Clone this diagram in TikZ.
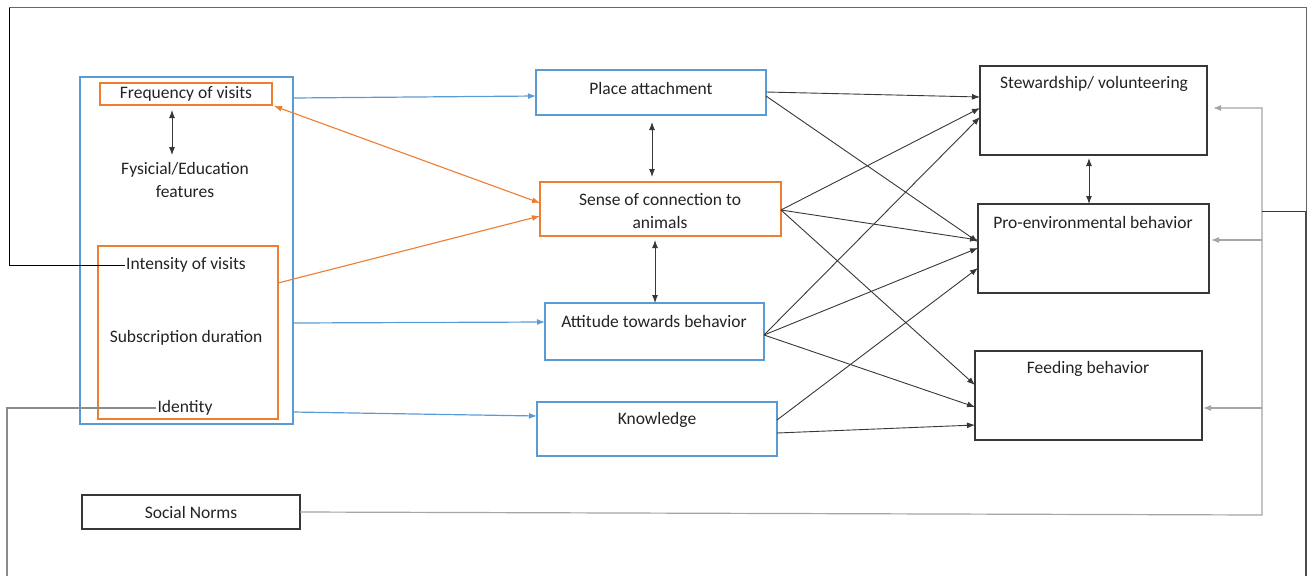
\documentclass[tikz,border=0pt]{standalone}
\usepackage{fontspec}
\setmainfont{Carlito}
\usetikzlibrary{arrows.meta,calc}
\definecolor{oblue}{RGB}{91,155,213}
\definecolor{oorange}{RGB}{237,125,49}
\definecolor{dline}{RGB}{55,55,55}
\definecolor{gline}{RGB}{165,165,165}
\definecolor{tcol}{RGB}{35,35,35}
\begin{document}
\begin{tikzpicture}[x=1pt,y=-1pt,
  bx/.style={draw,inner sep=0pt,outer sep=0pt,line width=1.4pt},
  txt/.style={inner sep=1pt,align=center,font=\fontsize{17.5}{23}\selectfont,text=tcol},
  tip/.style={-{Latex[length=8pt,width=6pt]}},
  dtip/.style={{Latex[length=8pt,width=6pt]}-{Latex[length=8pt,width=6pt]}},
  bluearrow/.style={draw=oblue,line width=1.2pt,tip},
  orangearrow/.style={draw=oorange,line width=1.1pt},
  darkarrow/.style={draw=dline,line width=0.9pt,tip},
  busline/.style={draw=gline,line width=1.2pt}]
\useasboundingbox (0,0) rectangle (1310,576);

% left group
\node[bx,draw=oblue,minimum width=213,minimum height=347] (lb) at (186.5,250.5) {};
\node[bx,draw=oorange,minimum width=180,minimum height=173] (ob) at (188,332.5) {};
\node[bx,draw=oorange,minimum width=172,minimum height=22,txt] (fq) at (186,94) {Frequency of visits};
\node[txt] (fyt) at (185,180) {Fysicial/Education\\features};
\node[txt] (int) at (186,265) {Intensity of visits};
\node[txt] (sdt) at (186,338) {Subscription duration};
\node[txt] (idt) at (185,408) {Identity};
\node[bx,draw=dline,minimum width=218,minimum height=34,txt] (sn) at (191,512) {Social Norms};

% middle
\node[bx,draw=oblue,minimum width=230,minimum height=45] (pa) at (651,92.5) {};
\node[txt] (pat) at (651,88) {Place attachment};
\node[bx,draw=oorange,minimum width=241,minimum height=54] (sc) at (660.5,209) {};
\node[txt] (sct) at (660,211) {Sense of connection to\\animals};
\node[bx,draw=oblue,minimum width=219,minimum height=57] (at) at (654.5,331.5) {};
\node[txt] (att) at (654,321) {Attitude towards behavior};
\node[bx,draw=oblue,minimum width=240,minimum height=54] (kn) at (657,429) {};
\node[txt] (knt) at (657,420) {Knowledge};

% right
\node[bx,draw=dline,minimum width=227,minimum height=89] (sv) at (1093.5,110.5) {};
\node[txt] (svt) at (1094,84) {Stewardship/ volunteering};
\node[bx,draw=dline,minimum width=231,minimum height=89] (pe) at (1093.5,248.5) {};
\node[txt] (pet) at (1093,222) {Pro-environmental behavior};
\node[bx,draw=dline,minimum width=227,minimum height=89] (fb) at (1088.5,395.5) {};
\node[txt] (fbt) at (1088,369) {Feeding behavior};

% coordinates for the frame and bus
\coordinate (c1) at (9,7);
\coordinate (c2) at (1306,7);
\coordinate (c3) at (1306,211);
\coordinate (bj) at (1262,211);
\coordinate (bb) at (1262,515);
\coordinate (j2) at (1262,240);
\coordinate (j3) at (1262,408);
\coordinate (ib) at (7,576);
\coordinate (rb) at (1306,576);

% double arrows
\draw[dline,line width=1pt,dtip] ($(fq.south)+(-14,5)$) -- ($(fyt.north)+(-13,-6)$);
\draw[dline,line width=1pt,dtip] ($(pa.south)+(1,7)$) -- ($(sc.north)+(-8.5,-5)$);
\draw[dline,line width=1pt,dtip] ($(sc.south)+(-5.5,4)$) -- ($(at.north)+(0.5,0)$);
\draw[dline,line width=1pt,dtip] ($(sv.south)+(-4.5,3)$) -- ($(pe.north)+(-4.5,0)$);

% blue arrows
\draw[bluearrow] (lb.east |- 0,98) -- (pa.west |- 0,96);
\draw[bluearrow] (lb.east |- 0,323) -- (at.west |- 0,322);
\draw[bluearrow] (lb.east |- 0,412) -- (kn.west |- 0,416);

% orange arrows
\draw[orangearrow,{Latex[length=8pt,width=6pt]}-{Latex[length=8pt,width=6pt]}] ($(fq.south east)+(2,1)$) -- (sc.west |- 0,203);
\draw[orangearrow,tip] (ob.east |- 0,283) -- (sc.west |- 0,216);

% dark arrows to outcomes
\draw[darkarrow] (pa.east |- 0,92) -- (sv.west |- 0,97);
\draw[darkarrow] (pa.east |- 0,96) -- (pe.west |- 0,242);
\draw[darkarrow] (sc.east |- 0,210) -- (sv.west |- 0,108);
\draw[darkarrow] (sc.east |- 0,210) -- (pe.west |- 0,240);
\draw[darkarrow] (sc.east |- 0,210) -- (fb.west |- 0,385);
\draw[darkarrow] (at.east |- 0,335) -- (sv.west |- 0,117);
\draw[darkarrow] (at.east |- 0,335) -- (pe.west |- 0,248);
\draw[darkarrow] (at.east |- 0,335) -- (fb.west |- 0,407);
\draw[darkarrow] (kn.east |- 0,420) -- (pe.west |- 0,268);
\draw[darkarrow] (kn.east |- 0,433) -- (fb.west |- 0,425);

% social norms bus
\draw[busline,tip] (sn.east) -- (bb) |- ($(sv.east |- 0,108)+(6,0)$);
\draw[busline,tip] (j2) -- ($(pe.east |- j2)+(2,0)$);
\draw[busline,tip] (j3) -- ($(fb.east |- j3)+(1,0)$);

% outer frame lines
\draw[black,line width=1pt] (int.west) -| (c1);
\draw[black!60,line width=1pt] (c1) -- (c2) -- (c3);
\draw[dline,line width=1pt] (c3) -- (bj);
\draw[black!70,line width=1.2pt] (c3) -- (rb);
\draw[gline!85!black,line width=1.2pt] (idt.west) -| (ib);
\end{tikzpicture}
\end{document}
